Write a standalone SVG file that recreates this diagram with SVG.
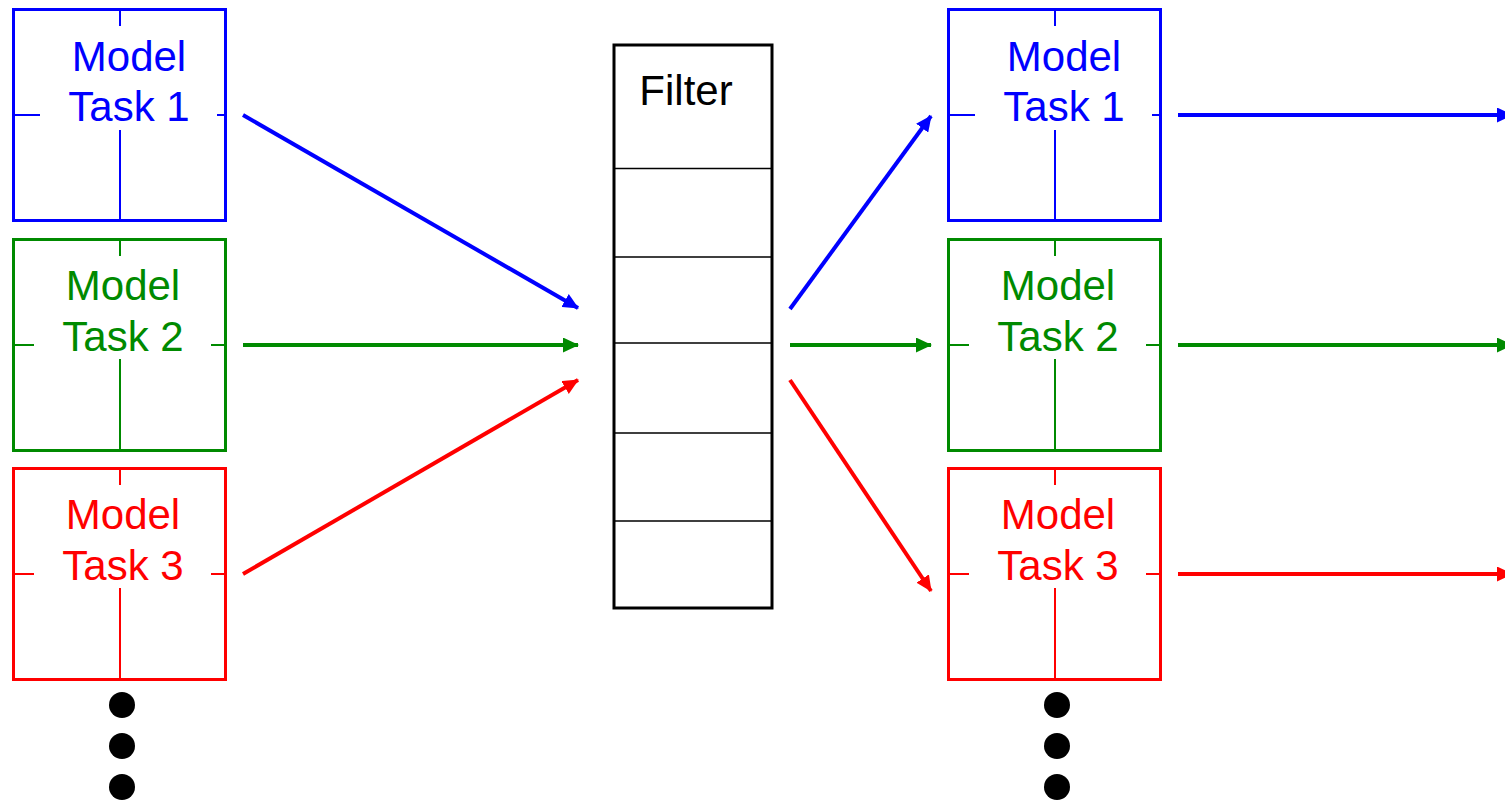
<svg xmlns="http://www.w3.org/2000/svg" width="1505" height="803" viewBox="0 0 1505 803">
<defs>
<style>
.box{fill:#fff;stroke-width:3}
.cross{stroke-width:2;fill:none}
.lbl{font-family:"Liberation Sans",Arial,sans-serif;font-size:42px;text-anchor:middle}
.conn line{stroke-width:4;fill:none}
.div{stroke:#000;stroke-width:1.5}
</style>
<marker id="ab" viewBox="0 0 16 15" refX="15" refY="7.5" markerWidth="16" markerHeight="15" markerUnits="userSpaceOnUse" orient="auto"><path d="M0,0 L16,7.5 L0,15 z" fill="#0000ff"/></marker>
<marker id="ag" viewBox="0 0 16 15" refX="15" refY="7.5" markerWidth="16" markerHeight="15" markerUnits="userSpaceOnUse" orient="auto"><path d="M0,0 L16,7.5 L0,15 z" fill="#008a00"/></marker>
<marker id="ar" viewBox="0 0 16 15" refX="15" refY="7.5" markerWidth="16" markerHeight="15" markerUnits="userSpaceOnUse" orient="auto"><path d="M0,0 L16,7.5 L0,15 z" fill="#ff0000"/></marker>
</defs>
<rect width="1505" height="803" fill="#fff"/>

<g id="left-task1">
<rect class="box" x="13.5" y="9.5" width="212" height="211" stroke="#0000ff"/>
<path class="cross" stroke="#0000ff" d="M120,9 V26 M120,130 V221 M13,115 H40 M217,115 H226"/>
<text class="lbl" fill="#0000ff" x="129" y="71">Model</text>
<text class="lbl" fill="#0000ff" x="129" y="121">Task 1</text>
</g>
<g id="left-task2">
<rect class="box" x="13.5" y="239.5" width="212" height="211" stroke="#008a00"/>
<path class="cross" stroke="#008a00" d="M120,239 V256 M120,359 V451 M13,345 H34 M211,345 H226"/>
<text class="lbl" fill="#008a00" x="123" y="300">Model</text>
<text class="lbl" fill="#008a00" x="123" y="351">Task 2</text>
</g>
<g id="left-task3">
<rect class="box" x="13.5" y="468.5" width="212" height="211" stroke="#ff0000"/>
<path class="cross" stroke="#ff0000" d="M120,468 V485 M120,588 V680 M13,574 H34 M211,574 H226"/>
<text class="lbl" fill="#ff0000" x="123" y="529">Model</text>
<text class="lbl" fill="#ff0000" x="123" y="580">Task 3</text>
</g>
<g id="left-dots" fill="#000">
<circle cx="122" cy="705" r="13"/>
<circle cx="122" cy="746" r="13"/>
<circle cx="122" cy="787" r="13"/>
</g>

<g id="filter">
<rect x="614" y="45" width="158" height="563" fill="#fff" stroke="#000" stroke-width="3"/>
<path class="div" d="M614,168.5 H772 M614,257 H772 M614,343 H772 M614,433 H772 M614,521 H772"/>
<text class="lbl" fill="#000" x="686" y="105">Filter</text>
</g>

<g id="right-task1">
<rect class="box" x="948.5" y="9.5" width="212" height="211" stroke="#0000ff"/>
<path class="cross" stroke="#0000ff" d="M1055,9 V26 M1055,130 V221 M948,115 H975 M1152,115 H1161"/>
<text class="lbl" fill="#0000ff" x="1064" y="71">Model</text>
<text class="lbl" fill="#0000ff" x="1064" y="121">Task 1</text>
</g>
<g id="right-task2">
<rect class="box" x="948.5" y="239.5" width="212" height="211" stroke="#008a00"/>
<path class="cross" stroke="#008a00" d="M1055,239 V256 M1055,359 V451 M948,345 H969 M1146,345 H1161"/>
<text class="lbl" fill="#008a00" x="1058" y="300">Model</text>
<text class="lbl" fill="#008a00" x="1058" y="351">Task 2</text>
</g>
<g id="right-task3">
<rect class="box" x="948.5" y="468.5" width="212" height="211" stroke="#ff0000"/>
<path class="cross" stroke="#ff0000" d="M1055,468 V485 M1055,588 V680 M948,574 H969 M1146,574 H1161"/>
<text class="lbl" fill="#ff0000" x="1058" y="529">Model</text>
<text class="lbl" fill="#ff0000" x="1058" y="580">Task 3</text>
</g>
<g id="right-dots" fill="#000">
<circle cx="1057" cy="705" r="13"/>
<circle cx="1057" cy="746" r="13"/>
<circle cx="1057" cy="787" r="13"/>
</g>

<g id="connectors" class="conn">
<line x1="243" y1="115" x2="578" y2="308" stroke="#0000ff" marker-end="url(#ab)"/>
<line x1="243" y1="345" x2="578" y2="345" stroke="#008a00" marker-end="url(#ag)"/>
<line x1="243" y1="574" x2="578" y2="380" stroke="#ff0000" marker-end="url(#ar)"/>
<line x1="790" y1="309" x2="931" y2="116" stroke="#0000ff" marker-end="url(#ab)"/>
<line x1="790" y1="345" x2="931" y2="345" stroke="#008a00" marker-end="url(#ag)"/>
<line x1="790" y1="380" x2="931" y2="591" stroke="#ff0000" marker-end="url(#ar)"/>
<line x1="1178" y1="115" x2="1512" y2="115" stroke="#0000ff" marker-end="url(#ab)"/>
<line x1="1178" y1="345" x2="1512" y2="345" stroke="#008a00" marker-end="url(#ag)"/>
<line x1="1178" y1="574" x2="1512" y2="574" stroke="#ff0000" marker-end="url(#ar)"/>
</g>
</svg>
